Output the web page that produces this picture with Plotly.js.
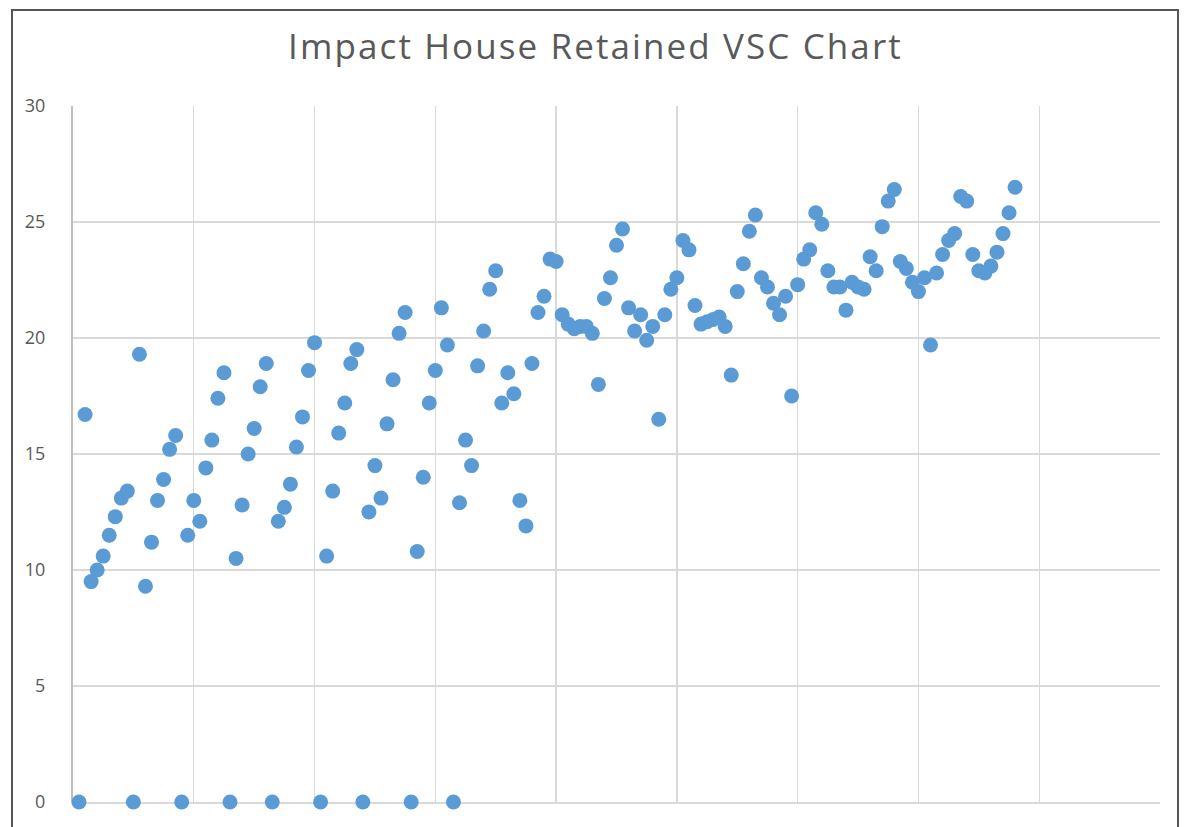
<!DOCTYPE html>
<html>
<head>
<meta charset="utf-8">
<script src="https://cdn.plot.ly/plotly-3.0.1.min.js"></script>
<style>
html,body{margin:0;padding:0;background:#fff;overflow:hidden;}
#frame{position:absolute;left:11px;top:9px;width:1168px;height:840px;border:2px solid #555;box-sizing:border-box;}
#chart{position:absolute;left:0;top:0;width:1191px;height:827px;}
.gtitle{letter-spacing:2.1px;}
</style>
</head>
<body>
<div id="frame"></div>
<div id="chart"></div>
<script>
// Sample index (x) and retained VSC value (y)
const sampleIndex = [
  1,2,3,4,5,6,7,8,9,10,11,12,13,14,15,16,17,18,19,20,
  21,22,23,24,25,26,27,28,29,30,31,32,33,34,35,36,37,38,39,40,
  41,42,43,44,45,46,47,48,49,50,51,52,53,54,55,56,57,58,59,60,
  61,62,63,64,65,66,67,68,69,70,71,72,73,74,75,76,77,78,79,80,
  81,82,83,84,85,86,87,88,89,90,91,92,93,94,95,96,97,98,99,100,
  101,102,103,104,105,106,107,108,109,110,111,112,113,114,115,116,117,118,119,120,
  121,122,123,124,125,126,127,128,129,130,131,132,133,134,135,136,137,138,139,140,
  141,142,143,144,145,146,147,148,149,150,151,152,153,154,155,156
];
const retainedVSC = [
  0,16.7,9.5,10.0,10.6,11.5,12.3,13.1,13.4,0,19.3,9.3,11.2,13.0,13.9,15.2,15.8,0,11.5,13.0,
  12.1,14.4,15.6,17.4,18.5,0,10.5,12.8,15.0,16.1,17.9,18.9,0,12.1,12.7,13.7,15.3,16.6,18.6,19.8,
  0,10.6,13.4,15.9,17.2,18.9,19.5,0,12.5,14.5,13.1,16.3,18.2,20.2,21.1,0,10.8,14.0,17.2,18.6,
  21.3,19.7,0,12.9,15.6,14.5,18.8,20.3,22.1,22.9,17.2,18.5,17.6,13.0,11.9,18.9,21.1,21.8,23.4,23.3,
  21.0,20.6,20.4,20.5,20.5,20.2,18.0,21.7,22.6,24.0,24.7,21.3,20.3,21.0,19.9,20.5,16.5,21.0,22.1,22.6,
  24.2,23.8,21.4,20.6,20.7,20.8,20.9,20.5,18.4,22.0,23.2,24.6,25.3,22.6,22.2,21.5,21.0,21.8,17.5,22.3,
  23.4,23.8,25.4,24.9,22.9,22.2,22.2,21.2,22.4,22.2,22.1,23.5,22.9,24.8,25.9,26.4,23.3,23.0,22.4,22.0,
  22.6,19.7,22.8,23.6,24.2,24.5,26.1,25.9,23.6,22.9,22.8,23.1,23.7,24.5,25.4,26.5
];
const yTickValues = [0,5,10,15,20,25,30];

const trace = {
  type: 'scatter',
  mode: 'markers',
  x: sampleIndex,
  y: retainedVSC,
  cliponaxis: false,
  marker: {color: '#5b9bd5', size: 15, line: {width: 0}},
  hoverinfo: 'x+y'
};

const layout = {
  width: 1191,
  height: 827,
  margin: {l: 73, r: 31, t: 106, b: 25},
  paper_bgcolor: 'rgba(0,0,0,0)',
  plot_bgcolor: '#ffffff',
  showlegend: false,
  font: {family: 'Open Sans, sans-serif', color: '#595959'},
  title: {
    text: 'Impact House Retained VSC Chart',
    font: {family: 'Open Sans, sans-serif', size: 35, color: '#595959'},
    x: 0.5, xref: 'container', xanchor: 'center',
    y: 1 - 47/827, yref: 'container', yanchor: 'middle'
  },
  xaxis: {
    range: [0, 180],
    tick0: 0, dtick: 20,
    showgrid: true, gridcolor: '#d9d9d9', gridwidth: 1.4,
    zeroline: false,
    showline: true, linecolor: '#d9d9d9', linewidth: 1.5,
    layer: 'below traces',
    showticklabels: false,
    ticks: ''
  },
  yaxis: {
    range: [0, 30],
    tickvals: yTickValues,
    ticktext: yTickValues.map(String),
    showgrid: true, gridcolor: '#d9d9d9', gridwidth: 1.4,
    zeroline: false,
    showline: true, linecolor: '#bfbfbf', linewidth: 2,
    layer: 'below traces',
    ticks: '',
    ticklabelstandoff: 22,
    tickfont: {family: 'Open Sans, sans-serif', size: 18, color: '#595959'}
  }
};

Plotly.newPlot('chart', [trace], layout, {displayModeBar: false, staticPlot: true});
</script>
</body>
</html>
